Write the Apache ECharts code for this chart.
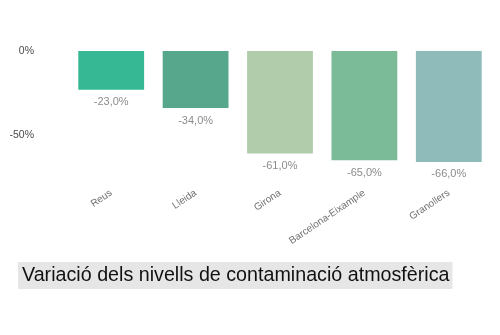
<!DOCTYPE html>
<html><head><meta charset="utf-8">
<script src="https://cdn.jsdelivr.net/npm/echarts@6/dist/echarts.min.js"></script>
<style>html,body{margin:0;padding:0;background:#fff}#c{width:500px;height:335px}</style>
</head><body><div id="c"></div>
<script>
const categories = ['Reus', 'Lleida', 'Girona', 'Barcelona-Eixample', 'Granollers'];
const values = [-23.0, -34.0, -61.0, -65.0, -66.0];
const barColors = ['#35b893', '#56a78c', '#b0ccab', '#7cbb98', '#90bbbb'];
const yTickLabels = { '0': '0%', '-50': '-50%' };
const titleText = 'Variació dels nivells de contaminació atmosfèrica';

const chart = echarts.init(document.getElementById('c'), null, { renderer: 'canvas' });
chart.setOption({
  animation: false,
  textStyle: { fontFamily: 'Liberation Sans, Arial, sans-serif' },
  title: {
    text: titleText,
    left: 18, top: 262,
    padding: [4, 3, 3, 4],
    backgroundColor: '#e6e6e6',
    textStyle: { fontSize: 19.7, fontWeight: 'normal', color: '#111', fontFamily: 'Liberation Sans, Arial, sans-serif' }
  },
  grid: { left: 69, right: 9, top: 51, height: 126, containLabel: false },
  xAxis: {
    type: 'category', data: categories, position: 'bottom',
    axisLine: { show: false }, axisTick: { show: false },
    axisLabel: { rotate: 34, fontSize: 10, color: '#6f6f6f', margin: 15, interval: 0 }
  },
  yAxis: {
    type: 'value', min: -75, max: 0, interval: 25,
    splitLine: { show: false }, axisLine: { show: false }, axisTick: { show: false },
    axisLabel: {
      fontSize: 10.5, color: '#4a4a4a', margin: 35,
      formatter: v => yTickLabels[String(v)] || ''
    }
  },
  series: [{
    type: 'bar', barWidth: '78%',
    data: values.map((v, i) => ({ value: v, itemStyle: { color: barColors[i] } })),
    label: {
      show: true, position: 'bottom', distance: 7,
      fontSize: 11, color: '#8c8c8c',
      formatter: p => p.value.toFixed(1).replace('.', ',') + '%'
    }
  }]
});
</script></body></html>
